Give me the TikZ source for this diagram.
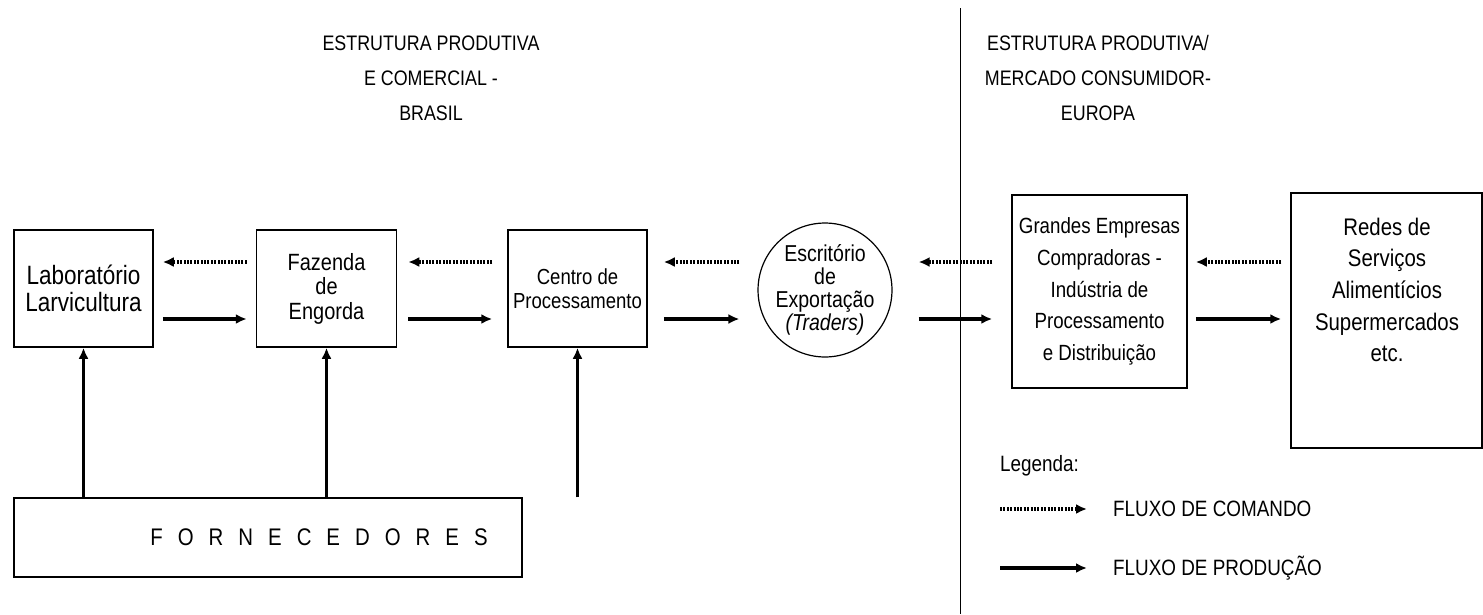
\documentclass[tikz,border=0pt]{standalone}
\usepackage{fontspec}
\setmainfont{Liberation Sans}[FakeStretch=0.85]
\usetikzlibrary{arrows.meta,shapes.geometric}
\newcommand\lsp{\hspace{15pt}}
\begin{document}
\begin{tikzpicture}[x=1pt,y=-1pt,
  box/.style={draw, line width=1.5pt, inner sep=0pt, align=center},
  txt/.style={inner sep=0pt, align=center},
  title/.style={inner sep=0pt, align=center, font=\fontsize{21}{35}\selectfont},
  prod/.style={line width=3.2pt, -{Latex[length=11pt,width=10pt]}},
  cmd/.style={line width=3.2pt, dash pattern=on 2pt off 1.4pt, -{Latex[length=11pt,width=10pt]}}
]
\useasboundingbox (0,0) rectangle (1483,614);
% separator
\draw[line width=1pt] (960,8) coordinate (sepa) -- (960,614) coordinate (sepb);
% titles
\node[title] (tl) at (431,78) {ESTRUTURA PRODUTIVA\\E COMERCIAL -\\BRASIL};
\node[title] (tr) at (1098,78) {ESTRUTURA PRODUTIVA/\\MERCADO CONSUMIDOR-\\EUROPA};
% boxes
\node[box, minimum width=139pt, minimum height=117pt, font=\fontsize{26.5}{27}\selectfont] (lab) at (83.5,288.5) {Laborat\'orio\\Larvicultura};
\node[box, minimum width=140pt, minimum height=117pt, font=\fontsize{23.5}{24.5}\selectfont] (faz) at (326.5,288.5) {Fazenda\\de\\Engorda};
\node[box, minimum width=139pt, minimum height=117pt, font=\fontsize{21.8}{24.5}\selectfont] (cen) at (577.5,288.5) {Centro de\\Processamento};
\node[draw, circle, line width=1.2pt, minimum size=114pt, inner sep=0pt, align=center, font=\fontsize{23}{23}\selectfont] (esc) at (825,290) {Escrit\'orio\\de\\Exporta\c{c}\~ao\\\textit{(Traders)}};
\node[box, minimum width=175pt, minimum height=193pt, font=\fontsize{22}{31.7}\selectfont] (gra) at (1099.5,291.5) {Grandes Empresas\\Compradoras -\\Ind\'ustria de\\Processamento\\e Distribui\c{c}\~ao};
\node[box, minimum width=191pt, minimum height=255pt] (red) at (1386.5,320.5) {};
\node[txt, font=\fontsize{24}{31.7}\selectfont] (redt) at (1387,290) {Redes de\\Servi\c{c}os\\Aliment\'icios\\Supermercados\\etc.};
\node[box, minimum width=508pt, minimum height=79pt] (forn) at (268,537.5) {};
\node[txt, font=\fontsize{24}{24}\selectfont] (fornt) at (319,537.5) {F\lsp O\lsp R\lsp N\lsp E\lsp C\lsp E\lsp D\lsp O\lsp R\lsp E\lsp S};
% row coordinates
\coordinate (ya) at (0,262);
\coordinate (yb) at (0,319);
% command flows (right to left)
\draw[cmd, shorten >=9pt, shorten <=9pt] (faz.west |- ya) -- (lab.east |- ya);
\draw[cmd, shorten >=11pt, shorten <=15pt] (cen.west |- ya) -- (faz.east |- ya);
\draw[cmd, shorten >=16pt, shorten <=18pt] (esc.west |- ya) -- (cen.east |- ya);
\draw[cmd, shorten >=26pt, shorten <=19pt] (gra.west |- ya) -- (esc.east |- ya);
\draw[cmd, shorten >=8pt, shorten <=9pt] (red.west |- ya) -- (gra.east |- ya);
% production flows
\draw[prod, shorten <=9pt, shorten >=9pt] (lab.east |- yb) -- (faz.west |- yb);
\draw[prod, shorten <=11pt, shorten >=15pt] (faz.east |- yb) -- (cen.west |- yb);
\draw[prod, shorten <=16pt, shorten >=18pt] (cen.east |- yb) -- (esc.west |- yb);
\draw[prod, shorten <=26pt, shorten >=19pt] (esc.east |- yb) -- (gra.west |- yb);
\draw[prod, shorten <=8pt, shorten >=9pt] (gra.east |- yb) -- (red.west |- yb);
% suppliers
\draw[prod] (forn.north -| lab.south) -- (lab.south);
\draw[prod] (forn.north -| faz.south) -- (faz.south);
\draw[prod] (forn.north -| cen.south) -- (cen.south);
% legend
\node[txt, anchor=west, font=\fontsize{22.2}{24}\selectfont] (leg) at (1000,466) {Legenda:};
\coordinate (l1a) at (1000,509);
\coordinate (l1b) at (1087,509);
\coordinate (l2a) at (1000,568);
\coordinate (l2b) at (1087,568);
\draw[cmd] (l1a) -- (l1b);
\draw[prod] (l2a) -- (l2b);
\node[txt, anchor=west, font=\fontsize{22.2}{24}\selectfont] (lc) at (1113,509) {FLUXO DE COMANDO};
\node[txt, anchor=west, font=\fontsize{22.2}{24}\selectfont] (lp) at (1113,568) {FLUXO DE PRODU\c{C}\~AO};
\end{tikzpicture}
\end{document}
